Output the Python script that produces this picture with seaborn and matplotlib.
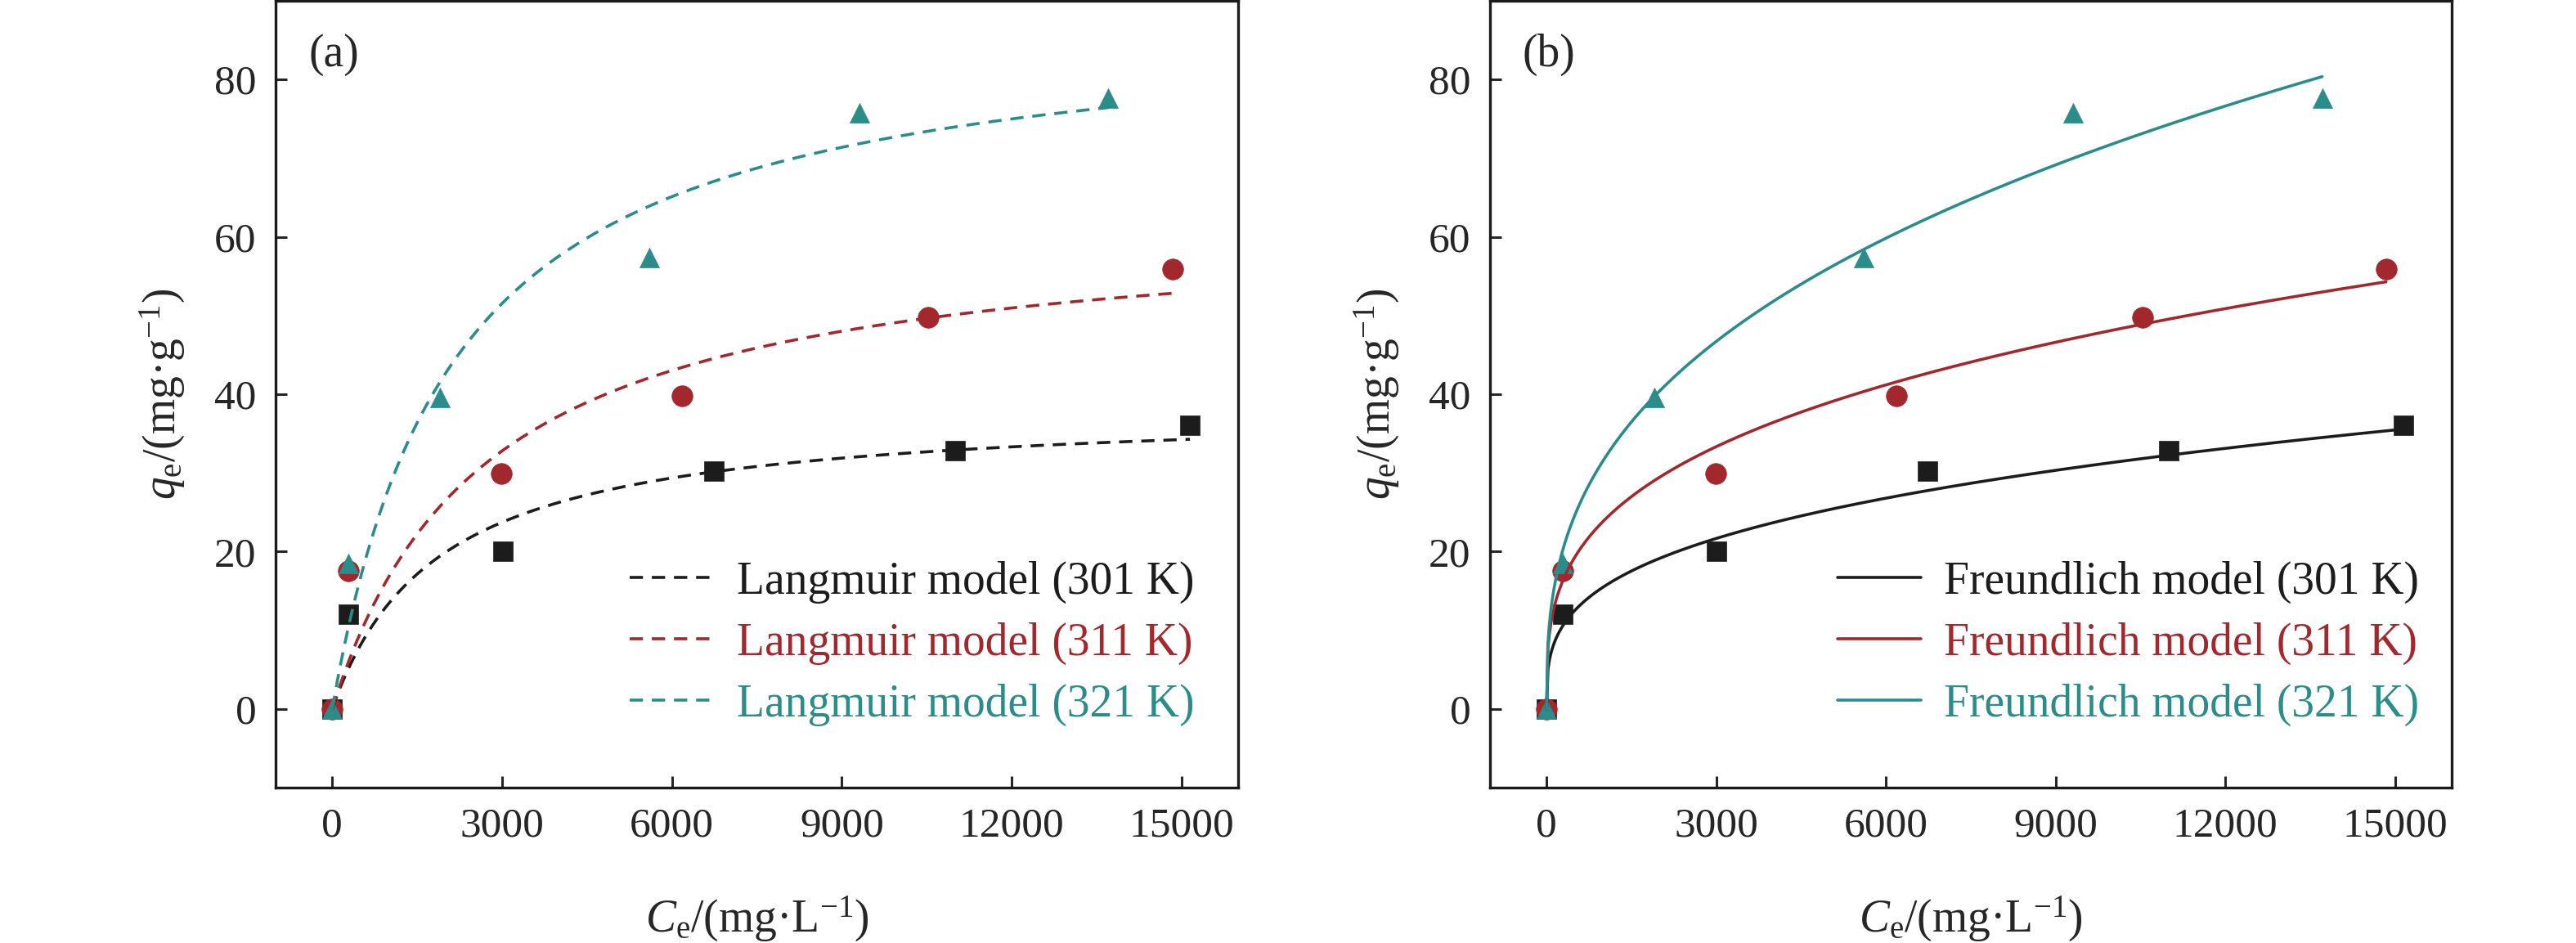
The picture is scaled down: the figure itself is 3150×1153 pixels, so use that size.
import numpy as np
import pandas as pd
import matplotlib
matplotlib.use("Agg")
import matplotlib.pyplot as plt
import seaborn as sns

# ---------------- data ----------------
temps = ["301 K", "311 K", "321 K"]
colors = ["#1c1c1c", "#a3282d", "#2a8d8a"]
markers = ["s", "o", "^"]

ce_301 = [0, 290, 3010, 6740, 11000, 15150]
qe_301 = [0, 12.0, 20.0, 30.2, 32.8, 36.1]
ce_311 = [0, 290, 2985, 6185, 10530, 14840]
qe_311 = [0, 17.5, 29.9, 39.8, 49.8, 55.9]
ce_321 = [0, 280, 1900, 5605, 9310, 13710]
qe_321 = [0, 18.5, 39.6, 57.4, 75.8, 77.6]

# fitted model parameters (estimated from the drawn curves)
langmuir_qm = [38.5, 62.5, 88.4]
langmuir_K = [5.35e-4, 3.68e-4, 4.66e-4]
freundlich_KF = [1.87, 2.90, 2.68]
freundlich_inv_n = [0.306, 0.305, 0.357]

x_ticks = [0, 3000, 6000, 9000, 12000, 15000]
y_ticks = [0, 20, 40, 60, 80]

# ---------------- style ----------------
sns.set_style("ticks")
plt.rcParams["font.family"] = ["Liberation Serif", "DejaVu Serif"]
plt.rcParams["mathtext.fontset"] = "custom"
plt.rcParams["mathtext.rm"] = "Liberation Serif"
plt.rcParams["mathtext.it"] = "Liberation Serif:italic"
FS = 37
LFS = 40

ce_all = [ce_301, ce_311, ce_321]
qe_all = [qe_301, qe_311, qe_321]
pts = pd.concat([pd.DataFrame({"Ce": c, "qe": q, "T": t})
                 for c, q, t in zip(ce_all, qe_all, temps)], ignore_index=True)

fig = plt.figure(figsize=(31.5, 11.53), dpi=100)
axa = fig.add_axes([337/3150, 1-963/1153, 1177/3150, 962/1153])
axb = fig.add_axes([1822/3150, 1-963/1153, 1176/3150, 962/1153])

def model_frame(kind):
    frames = []
    for i, t in enumerate(temps):
        c = np.linspace(0, max(ce_all[i]), 600)
        if kind == "L":
            q = langmuir_qm[i]*langmuir_K[i]*c/(1+langmuir_K[i]*c)
            lab = f"Langmuir model ({t})"
        else:
            q = freundlich_KF[i]*np.power(c, freundlich_inv_n[i])
            lab = f"Freundlich model ({t})"
        frames.append(pd.DataFrame({"Ce": c, "qe": q, "model": lab}))
    return pd.concat(frames, ignore_index=True)

for ax, kind, tag in [(axa, "L", "(a)"), (axb, "F", "(b)")]:
    mdf = model_frame(kind)
    labs = list(mdf["model"].unique())
    for i, t in enumerate(temps):
        sns.scatterplot(data=pts[pts["T"] == t], x="Ce", y="qe", ax=ax,
                        marker=markers[i], color=colors[i],
                        s=300 if markers[i] != "o" else 340,
                        edgecolor=colors[i], linewidth=0.5, legend=False, zorder=3)
    for i, lab in enumerate(labs):
        sub = mdf[mdf["model"] == lab]
        if kind == "L":
            sns.lineplot(data=sub, x="Ce", y="qe", ax=ax, color=colors[i],
                         lw=2.6, label=lab, zorder=4, sort=False,
                         dashes=False, linestyle=(0, (4.5, 3)))
        else:
            sns.lineplot(data=sub, x="Ce", y="qe", ax=ax, color=colors[i],
                         lw=2.6, label=lab, zorder=4, sort=False)
    ax.set_xlim(-1000, 16000)
    ax.set_ylim(-10, 90)
    ax.set_xticks(x_ticks)
    ax.set_yticks(y_ticks)
    ax.tick_params(axis="both", direction="in", length=10, width=2.2,
                   labelsize=FS, pad=17, top=False, right=False)
    for sp in ax.spines.values():
        sp.set_visible(True)
        sp.set_linewidth(2.4)
        sp.set_color("#1a1a1a")
    ax.set_xlabel(r"$C_\mathrm{e}$/(mg·L$^{-1}$)", fontsize=LFS, labelpad=44)
    ax.set_ylabel(r"$q_\mathrm{e}$/(mg·g$^{-1}$)", fontsize=LFS, labelpad=24)
    ax.text(0.034, 0.931, tag, transform=ax.transAxes, fontsize=LFS,
            va="center", ha="left")
    anchor_x = 0.368 if kind == "L" else 0.361
    leg = ax.legend(loc="lower left", bbox_to_anchor=(anchor_x, 0.078),
                    frameon=False, fontsize=LFS, handlelength=1.85,
                    handletextpad=0.5, labelspacing=0.41, borderpad=0,
                    borderaxespad=0)
    for txt, c in zip(leg.get_texts(), colors):
        txt.set_color(c)

fig.savefig("out.png", dpi=100)
